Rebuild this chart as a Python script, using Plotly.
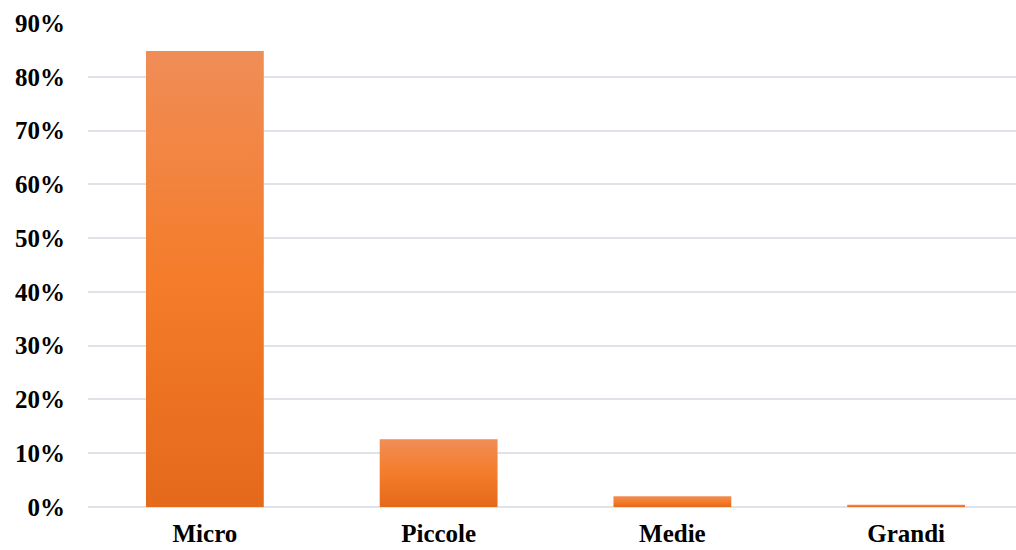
import plotly.graph_objects as go

categories = ["Micro", "Piccole", "Medie", "Grandi"]
values = [0.848, 0.126, 0.020, 0.004]
y_ticks = [0, 0.1, 0.2, 0.3, 0.4, 0.5, 0.6, 0.7, 0.8, 0.9]

bar_width = 0.504
grad = [[0, "#E5691B"], [0.5, "#F47C2A"], [1, "#F08D57"]]

fig = go.Figure()
for i, (cat, v) in enumerate(zip(categories, values)):
    x0, x1 = i - bar_width / 2, i + bar_width / 2
    fig.add_trace(go.Scatter(
        x=[x0, x1, x1, x0, x0],
        y=[0, 0, v, v, 0],
        mode="lines",
        line=dict(width=0, color="rgba(0,0,0,0)"),
        fill="toself",
        fillgradient=dict(type="vertical", colorscale=grad),
        fillcolor="#F47C2A",
        name=cat,
        hoverinfo="text",
        text=f"{cat}: {v*100:.1f}%",
        showlegend=False,
    ))

font = dict(family="Liberation Serif", size=25, color="#000000")
fig.update_layout(
    width=1016, height=550,
    margin=dict(l=88, r=0, t=23, b=43),
    paper_bgcolor="white", plot_bgcolor="white",
    font=font,
    showlegend=False,
)
fig.update_xaxes(
    range=[-0.5, 3.47],
    tickvals=list(range(len(categories))),
    ticktext=[f"<b>{c}</b>" for c in categories],
    tickfont=dict(family="Liberation Serif", size=25, color="#000000"),
    showgrid=False, zeroline=False, showline=False, ticks="",
    ticklabelstandoff=9,
    automargin=False,
)
fig.update_yaxes(
    range=[0, 0.9],
    tickvals=y_ticks,
    ticktext=[f"<b>{round(t*100)}%</b>" for t in y_ticks],
    tickfont=font,
    showgrid=True, gridcolor="#DFE3E9", gridwidth=2,
    zeroline=True, zerolinecolor="#DFE3E9", zerolinewidth=2,
    showline=False, ticks="",
    ticklabelstandoff=22,
    automargin=False,
)
fig.write_html("out.html")
